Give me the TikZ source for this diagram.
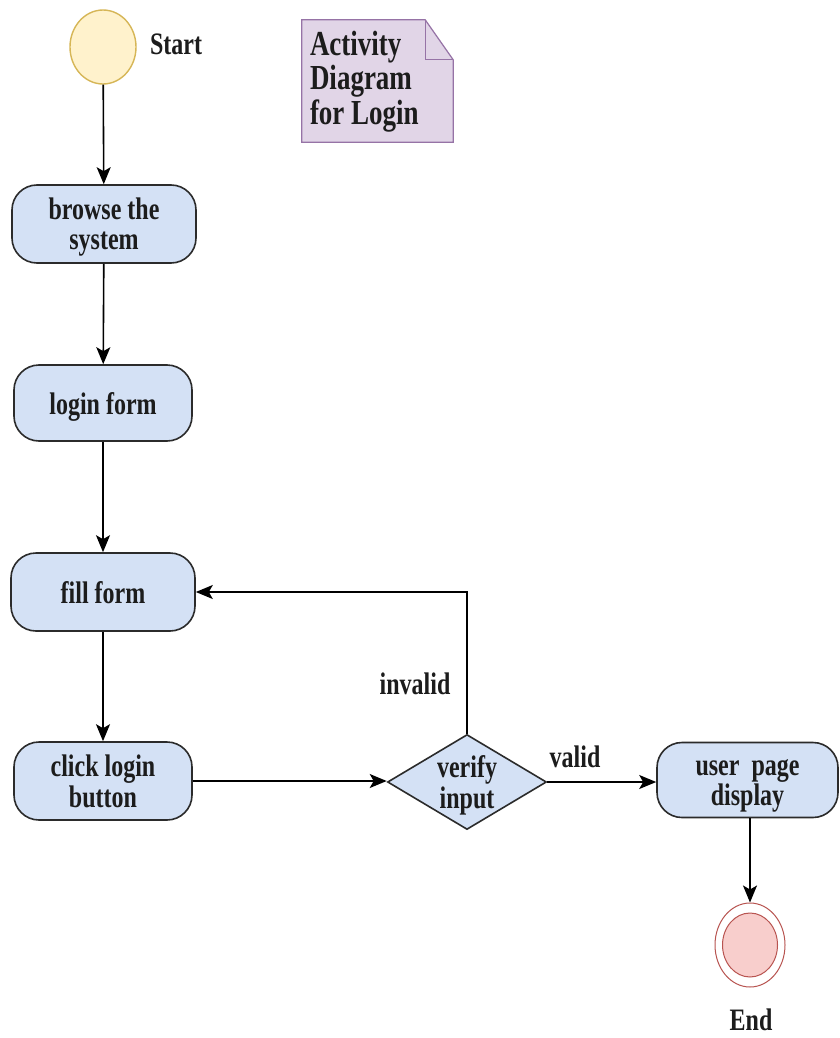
\documentclass[tikz,border=0pt]{standalone}
\usepackage{fontspec}
\usepackage{graphicx}
\setmainfont{Liberation Serif}
\usetikzlibrary{shapes.geometric,arrows.meta}
\definecolor{actfill}{HTML}{D4E1F5}
\definecolor{actline}{HTML}{2B2B2B}
\definecolor{startfill}{HTML}{FFF2CC}
\definecolor{startline}{HTML}{D6B656}
\definecolor{notefill}{HTML}{E1D5E7}
\definecolor{noteline}{HTML}{9673A6}
\definecolor{endfill}{HTML}{F8CECC}
\definecolor{endline}{HTML}{B85450}
\definecolor{txt}{HTML}{1C1C1C}
\newcommand{\zc}[1]{\vbox to 0pt{\vss\hbox to 0pt{\hss\scalebox{1}[1.3]{\begin{tabular}{@{}c@{}}#1\end{tabular}}\hss}\vss\kern-9pt}}
\newcommand{\vst}[1]{\scalebox{1}[1.3]{#1}}
\begin{document}
\begin{tikzpicture}[x=1pt,y=-1pt,
  every node/.style={text=txt,font=\fontsize{24}{23}\selectfont\bfseries},
  actbox/.style={draw=actline,line width=1.6pt,fill=actfill,rectangle,rounded corners=25pt,inner sep=0pt},
  decision/.style={draw=actline,line width=1.6pt,fill=actfill,diamond,inner sep=0pt},
  startnode/.style={draw=startline,line width=1.4pt,fill=startfill,ellipse,inner sep=0pt},
  flow/.style={draw=black,line width=1.6pt,-{Stealth[length=17pt,width=14pt,inset=4pt]}},
  lbl/.style={inner sep=0pt}
]
\useasboundingbox[fill=white] (0,0) rectangle (839,1038);

% start
\node[startnode,minimum width=66pt,minimum height=74pt] (start) at (103,47) {};
\node[lbl] (starttxt) at (176,44) {\zc{Start}};

% note
\node[inner sep=0pt,minimum width=151pt,minimum height=122pt] (note) at (377.5,81) {};
\draw[draw=noteline,fill=notefill,line width=1.2pt]
  (note.north west) -- ([xshift=-28pt]note.north east) -- ([yshift=-40pt]note.north east)
  -- (note.south east) -- (note.south west) -- cycle;
\draw[draw=noteline,line width=1.2pt]
  ([xshift=-28pt]note.north east) -- ([xshift=-28pt,yshift=-40pt]note.north east) -- ([yshift=-40pt]note.north east);
\node[lbl,anchor=west,font=\fontsize{27}{26}\selectfont\bfseries] (notetxt) at ([xshift=8pt,yshift=-2pt]note.west)
  {\vst{\begin{tabular}{@{}l@{}}Activity\\Diagram\\for Login\end{tabular}}};

% activities
\node[actbox,minimum width=184pt,minimum height=78pt] (browse) at (104,224) {\zc{browse the\\system}};
\node[actbox,minimum width=178pt,minimum height=76pt] (login) at (103,403) {\zc{login form}};
\node[actbox,minimum width=184pt,minimum height=78pt] (fill) at (103,592) {\zc{fill form}};
\node[actbox,minimum width=178pt,minimum height=78pt] (click) at (103,781) {\zc{click login\\button}};
\node[decision,minimum width=159pt,minimum height=95pt] (verify) at (467,782) {\zc{verify\\input}};
\node[actbox,minimum width=181pt,minimum height=75pt] (user) at (747.5,780) {\zc{user\ \ page\\display}};

% end
\node[ellipse,draw=endline,fill=white,line width=1pt,minimum width=70pt,minimum height=84pt,inner sep=0pt] (endouter) at (750,945) {};
\node[ellipse,draw=endline,fill=endfill,line width=1pt,minimum width=55pt,minimum height=64pt,inner sep=0pt] (endinner) at (750,945) {};
\node[lbl] (endtxt) at (751,1020) {\zc{End}};

% labels
\node[lbl] (invalidtxt) at (415,684) {\zc{invalid}};
\node[lbl] (validtxt) at (575,757) {\zc{valid}};

% connectors
\draw[flow] (start) -- (browse);
\draw[flow] (browse) -- (login);
\draw[flow] (login) -- (fill);
\draw[flow] (fill) -- (click);
\draw[flow] (click.east) -- (click.east -| verify.west);
\draw[flow] (verify.north) |- (fill.east);
\draw[flow] (verify.east) -- (verify.east -| user.west);
\draw[flow] (user.south -| endouter.north) -- (endouter.north);
\end{tikzpicture}
\end{document}
